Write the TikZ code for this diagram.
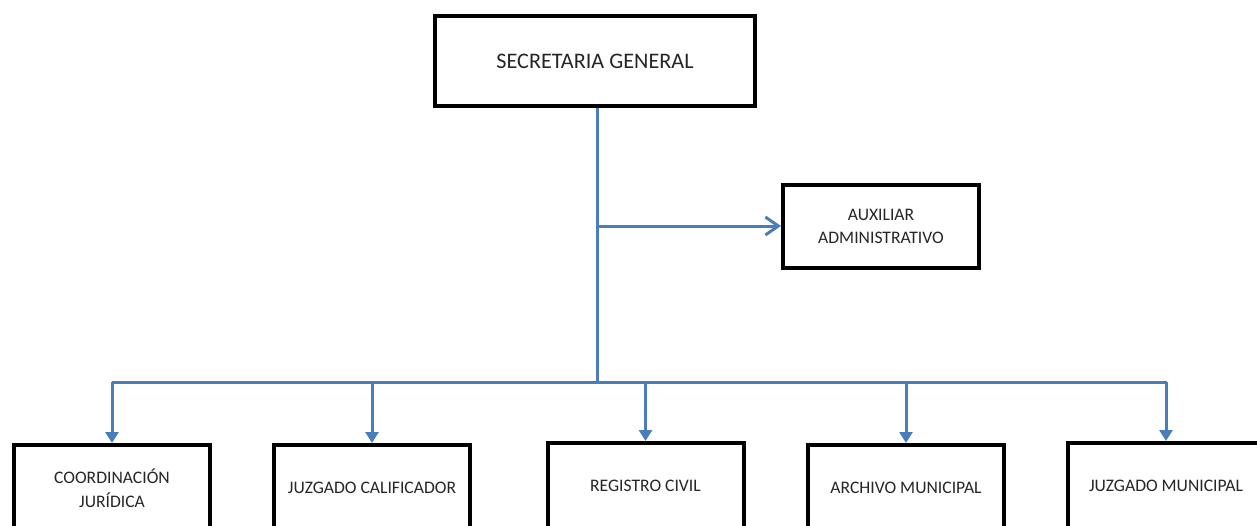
\documentclass[tikz,border=0pt]{standalone}
\usepackage{fontspec}
\setmainfont{Carlito}
\usetikzlibrary{arrows.meta}
\definecolor{linkblue}{HTML}{4A7EBB}
\definecolor{textgray}{HTML}{262626}
\begin{document}
\begin{tikzpicture}[x=1pt,y=-1pt,
  unit/.style={draw=black, line width=4pt, fill=white, rectangle,
    minimum width=196pt, align=center, text=textgray, inner sep=0pt},
  small/.style={font=\fontsize{17.6}{23.5}\selectfont},
  link/.style={draw=linkblue, line width=3pt},
  down/.style={link, -{Triangle[length=11pt,width=13pt]}},
  side/.style={link, -{Straight Barb[length=13pt,width=18pt,line width=3pt]}}]
  \useasboundingbox (0,0) rectangle (1257,525);

  % head office and its assistant
  \node[unit, minimum width=320pt, minimum height=90pt, font=\fontsize{22.2}{26}\selectfont]
    (sec) at (595,61) {SECRETARIA GENERAL};
  \node[unit, small, minimum height=83pt]
    (aux) at (881,226.5) {AUXILIAR\\ADMINISTRATIVO};

  % subordinate units (cut off by the lower edge)
  \node[unit, small, minimum height=86pt] (coord) at (112,488) {COORDINACIÓN\\JURÍDICA};
  \node[unit, small, minimum height=86pt] (calif) at (372,488) {JUZGADO CALIFICADOR};
  \node[unit, small, minimum height=86pt] (reg) at (645.5,486) {REGISTRO CIVIL};
  \node[unit, small, minimum height=86pt] (arch) at (906,488) {ARCHIVO MUNICIPAL};
  \node[unit, small, minimum height=86pt] (mun) at (1166,486) {JUZGADO MUNICIPAL};

  % connector junctions
  \coordinate (hub) at (597,382);
  \coordinate (tap) at (597,226);
  \coordinate (busL) at (112,382);
  \coordinate (busR) at (1167,382);

  \draw[link] (sec.south -| hub) -- (hub);
  \draw[side] (tap) -- (aux.west |- tap);
  \draw[link] (busL) -- (busR);
  \foreach \u in {coord,calif,reg,arch,mun}
    \draw[down] (\u.north |- hub) -- (\u.north);
\end{tikzpicture}
\end{document}
